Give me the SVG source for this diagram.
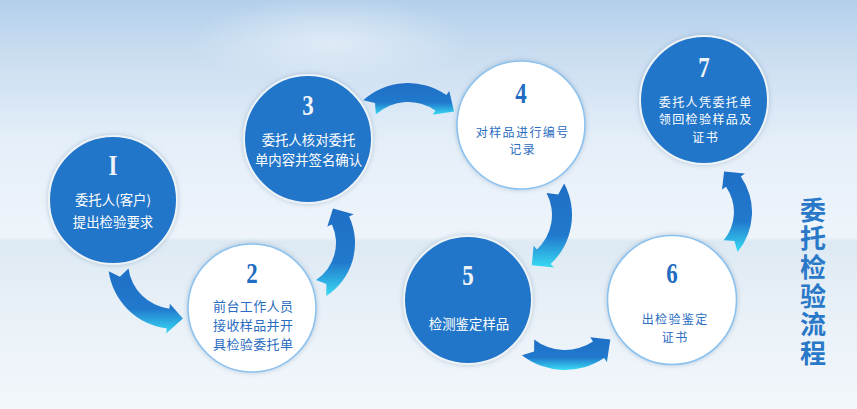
<svg xmlns="http://www.w3.org/2000/svg" width="857" height="409" viewBox="0 0 857 409">
<defs>
<linearGradient id="bg" x1="0" y1="0" x2="0" y2="1">
<stop offset="0" stop-color="#b2cfeb"/>
<stop offset="0.12" stop-color="#c8dcf0"/>
<stop offset="0.35" stop-color="#e5eff9"/>
<stop offset="0.58" stop-color="#eef4fa"/>
<stop offset="0.59" stop-color="#dde9f3"/>
<stop offset="0.75" stop-color="#e8f0f7"/>
<stop offset="1" stop-color="#f3f7fc"/>
</linearGradient>
<radialGradient id="glow" cx="0.5" cy="0.5" r="0.5">
<stop offset="0" stop-color="#ffffff" stop-opacity="0.45"/>
<stop offset="1" stop-color="#ffffff" stop-opacity="0"/>
</radialGradient>
<linearGradient id="arr" x1="0" y1="0" x2="0" y2="1">
<stop offset="0" stop-color="#1e6fc6"/>
<stop offset="0.62" stop-color="#2179cd"/>
<stop offset="1" stop-color="#38dbf4"/>
</linearGradient>
<filter id="sh" x="-20%" y="-20%" width="140%" height="140%">
<feDropShadow dx="0" dy="0" stdDeviation="2.5" flood-color="#6f8fae" flood-opacity="0.45"/>
</filter>
<style>
.dark{fill:#2176c9;stroke:#eef3f8;stroke-width:2}
.light{fill:#ffffff;stroke:#8cc2f0;stroke-width:1.6}
.num{font-family:"Liberation Serif","DejaVu Serif",serif;font-weight:bold;font-size:28px;text-anchor:middle}
.numw{fill:#eef3f9}
.numb{fill:#1f6cc2}
.lbl{font-family:"Noto Sans CJK SC","Noto Sans",sans-serif;font-size:13.4px;text-anchor:middle}
.sm{font-size:12px;letter-spacing:1.4px}
.md{font-size:13px;letter-spacing:0.4px}
.lw{fill:#ffffff}
.lb{fill:#2a6cbf}
.arrow{fill:url(#arr)}
.title{font-family:"Noto Sans CJK SC","Noto Sans",sans-serif;font-size:26px;font-weight:bold;fill:#2a78c8;writing-mode:vertical-rl;letter-spacing:2.6px}
</style>
</defs>
<rect x="0" y="0" width="857" height="409" fill="url(#bg)"/>
<ellipse cx="330" cy="40" rx="140" ry="45" fill="url(#glow)"/>

<g id="connectors">
<path class="arrow" d="M108.7,271.3 L119.9,276.8 L128.5,268.5 A47,47 0 0 0 169.3,308.7 L169.9,303.7 L182.9,318.4 L166.2,333.5 L166.8,328.5 A67,67 0 0 1 108.7,271.3 Z"/>
<path class="arrow" d="M326.3,295.9 L326.4,284 L316,279.9 A44,44 0 0 0 331.9,224.4 L327.3,226.5 L333,208.6 L353.6,214.2 L349.1,216.4 A63,63 0 0 1 326.3,295.9 Z"/>
<path class="arrow" d="M363.2,100.2 L375,102.9 L375.9,114.3 A48,48 0 0 1 435.5,110.7 L432.7,114.8 L454,111.4 L449.3,91 L446.4,95.1 A67,67 0 0 0 363.2,100.2 Z"/>
<path class="arrow" d="M564.2,183.6 L558.2,194.6 L546.5,193 A47,47 0 0 1 537,249.4 L533.6,245.7 L531.8,265.3 L554.1,267.6 L550.7,264 A67,67 0 0 0 564.2,183.6 Z"/>
<path class="arrow" d="M521.9,355.2 L534.1,351.4 L534.2,339.4 A50,50 0 0 0 593,341.5 L590.2,337.3 L610.3,339.4 L606.9,362.2 L604.1,358 A70,70 0 0 1 521.9,355.2 Z"/>
<path class="arrow" d="M737.5,251.9 L734.5,240.9 L723.7,240.3 A44,44 0 0 0 726,186.8 L722,189.6 L724.1,171.4 L744.9,173.6 L740.8,176.4 A62,62 0 0 1 737.5,251.9 Z"/>
</g>

<g id="node1">
<circle class="dark" cx="113" cy="200" r="64" filter="url(#sh)"/>
<text class="num numw" transform="translate(113,175) scale(0.82,1.05)">I</text>
<text class="lbl lw"><tspan x="113" y="205">委托人(客户)</tspan><tspan x="113" y="227">提出检验要求</tspan></text>
</g>

<g id="node2">
<circle class="light" cx="252" cy="308" r="64" filter="url(#sh)"/>
<text class="num numb" transform="translate(252,283) scale(0.82,1.05)">2</text>
<text class="lbl md lb"><tspan x="253.2" y="310.5">前台工作人员</tspan><tspan x="253.2" y="329.5">接收样品并开</tspan><tspan x="253.2" y="348.5">具检验委托单</tspan></text>
</g>

<g id="node3">
<circle class="dark" cx="308" cy="139" r="64" filter="url(#sh)"/>
<text class="num numw" transform="translate(308,115) scale(0.82,1.05)">3</text>
<text class="lbl lw"><tspan x="308.5" y="145">委托人核对委托</tspan><tspan x="308.5" y="164.5">单内容并签名确认</tspan></text>
</g>

<g id="node4">
<circle class="light" cx="521" cy="125" r="64" filter="url(#sh)"/>
<text class="num numb" transform="translate(521,103) scale(0.82,1.05)">4</text>
<text class="lbl sm lb"><tspan x="522.7" y="136.5">对样品进行编号</tspan><tspan x="522.7" y="154">记录</tspan></text>
</g>

<g id="node5">
<circle class="dark" cx="468" cy="300" r="64" filter="url(#sh)"/>
<text class="num numw" transform="translate(468,285) scale(0.82,1.05)">5</text>
<text class="lbl lw" x="469" y="328.5">检测鉴定样品</text>
</g>

<g id="node6">
<circle class="light" cx="672" cy="300" r="64.5" filter="url(#sh)"/>
<text class="num numb" transform="translate(672,283) scale(0.82,1.05)">6</text>
<text class="lbl sm lb"><tspan x="675.2" y="324">出检验鉴定</tspan><tspan x="675.2" y="341.6">证书</tspan></text>
</g>

<g id="node7">
<circle class="dark" cx="704" cy="100" r="64" filter="url(#sh)"/>
<text class="num numw" transform="translate(704,77) scale(0.82,1.05)">7</text>
<text class="lbl sm lw"><tspan x="705.7" y="106.5">委托人凭委托单</tspan><tspan x="705.7" y="124">领回检验样品及</tspan><tspan x="705.7" y="141.5">证书</tspan></text>
</g>

<g id="title">
<text class="title" x="813" y="197">委托检验流程</text>
</g>
</svg>
